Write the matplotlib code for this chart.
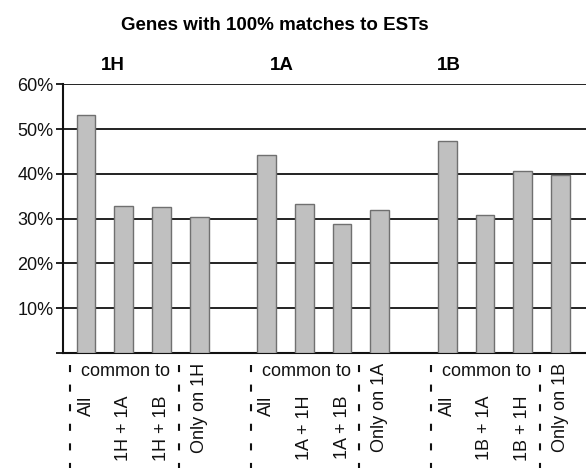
import matplotlib
matplotlib.use("Agg")
import matplotlib.pyplot as plt
import matplotlib.transforms as mtransforms
from matplotlib.lines import Line2D

plt.rcParams['font.family'] = ['Liberation Sans', 'DejaVu Sans']

title = "Genes with 100% matches to ESTs"
groups = ["1H", "1A", "1B"]
labels = [
    ["All", "1H + 1A", "1H + 1B", "Only on 1H"],
    ["All", "1A + 1H", "1A + 1B", "Only on 1A"],
    ["All", "1B + 1A", "1B + 1H", "Only on 1B"],
]
values = [
    [53.2, 32.8, 32.5, 30.3],
    [44.2, 33.3, 28.9, 32.0],
    [47.4, 30.8, 40.7, 39.7],
]
yticks = [0, 10, 20, 30, 40, 50, 60]
ytick_labels = ["", "10%", "20%", "30%", "40%", "50%", "60%"]

W, H = 586, 468
fig = plt.figure(figsize=(W / 100, H / 100), dpi=100)
ax_left, ax_bottom, ax_top = 63, 353, 84.3
ax = fig.add_axes([ax_left / W, (H - ax_bottom) / H, 1 - ax_left / W, (ax_bottom - ax_top) / H])

group_step = 4.79
bar_w = 0.5
for g, vals in enumerate(values):
    start = g * group_step
    xs = [start + i for i in range(len(vals))]
    ax.bar(xs, vals, width=bar_w, color="#c0c0c0", edgecolor="#707070", linewidth=1.0, zorder=3)
    trans = mtransforms.blended_transform_factory(ax.transData, ax.transAxes)
    for i, (x, lab) in enumerate(zip(xs, labels[g])):
        ytop = -0.038 if i == 3 else -0.158
        ax.text(x, ytop, lab, rotation=90, ha="center", va="top", fontsize=13,
                transform=trans, color="#111111")
    ax.text(start + 1.05, -0.086, "common to", ha="center", va="baseline", fontsize=13,
            transform=trans, color="#111111")
    for dx in (-0.42, 2.46):
        ln = Line2D([start + dx, start + dx], [-0.045, -0.43], transform=trans,
                    color="#111111", linewidth=1.5, linestyle=(0, (3.4, 6.0)), clip_on=False)
        ax.add_line(ln)

ax.set_ylim(0, 60)
ax.set_xlim(-0.61, 13.26)
ax.set_yticks(yticks)
ax.set_yticklabels(ytick_labels, fontsize=13)
ax.set_xticks([])
ax.yaxis.grid(True, color="#111111", linewidth=1.3, zorder=0)
ax.set_axisbelow(True)
ax.tick_params(axis="y", length=5, width=1.3, pad=2, colors="#111111")
for s in ("top", "right"):
    ax.spines[s].set_visible(False)
for s in ("left", "bottom"):
    ax.spines[s].set_linewidth(1.5)
    ax.spines[s].set_color("#111111")

fig.text(275 / W, 1 - 26 / H, title, ha="center", va="center", fontsize=13.5, fontweight="bold")
for gx, name in zip([113, 282, 449], groups):
    fig.text(gx / W, 1 - 65 / H, name, ha="center", va="center", fontsize=13.5, fontweight="bold")

fig.savefig("out.png", dpi=100)
